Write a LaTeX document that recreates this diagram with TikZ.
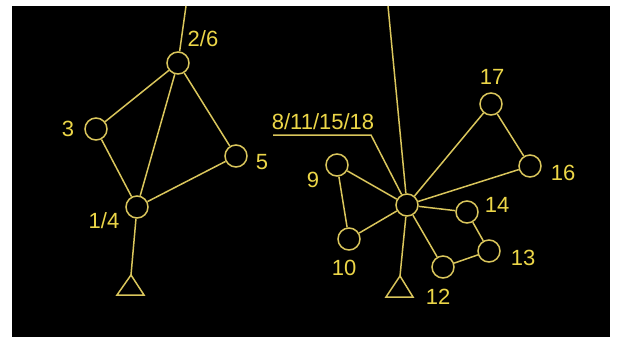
\documentclass[tikz,border=0pt]{standalone}
\usepackage{fontspec}
\setmainfont{Liberation Sans}
\begin{document}
\begin{tikzpicture}[x=1pt,y=-1pt,
  every node/.style={inner sep=0pt},
  vert/.style={circle,draw=lin,line width=1.5pt,minimum size=22pt},
  lbl/.style={text=txt,font=\fontsize{22}{22}\selectfont},
  edge/.style={draw=lin,line width=1.5pt},
  tri/.style={draw=lin,line width=1.5pt,line join=miter}]
\definecolor{lin}{RGB}{218,198,92}
\definecolor{txt}{RGB}{236,214,72}
\useasboundingbox (0,0) rectangle (617,338);
\fill[white] (0,0) rectangle (617,338);
\fill[black] (12,6) rectangle (610,337);
% left cluster
\node[vert] (n26) at (178,63) {};
\node[vert] (n3) at (96,129) {};
\node[vert] (n5) at (236,156) {};
\node[vert] (n14a) at (137,207) {};
\coordinate (topL) at (186,6);
\coordinate (apL) at (131,275);
\draw[tri] (apL) -- (144,295) -- (117,295) -- cycle;
\draw[edge] (topL) -- (n26);
\draw[edge] (n26) -- (n3);
\draw[edge] (n26) -- (n14a);
\draw[edge] (n26) -- (n5);
\draw[edge] (n3) -- (n14a);
\draw[edge] (n5) -- (n14a);
\draw[edge] (n14a) -- (apL);
\node[lbl] (l26) at (203,39) {2/6};
\node[lbl] (l3) at (68,129) {3};
\node[lbl] (l5) at (262,162) {5};
\node[lbl] (l14) at (104,221) {1/4};
% right cluster
\node[vert] (c) at (407,205) {};
\node[vert] (n9) at (337,165) {};
\node[vert] (n10) at (349,239) {};
\node[vert] (n17) at (491,104) {};
\node[vert] (n16) at (530,166) {};
\node[vert] (n14) at (467,212) {};
\node[vert] (n13) at (489,251) {};
\node[vert] (n12) at (443,267) {};
\coordinate (topR) at (388,6);
\coordinate (apR) at (400,276);
\coordinate (ulA) at (273,135);
\coordinate (ulB) at (371,135);
\draw[tri] (apR) -- (413,297) -- (386,297) -- cycle;
\draw[edge] (topR) -- (c);
\draw[edge] (ulA) -- (ulB) -- (c);
\draw[edge] (c) -- (n9);
\draw[edge] (c) -- (n10);
\draw[edge] (n9) -- (n10);
\draw[edge] (c) -- (n17);
\draw[edge] (c) -- (n16);
\draw[edge] (n17) -- (n16);
\draw[edge] (c) -- (n14);
\draw[edge] (n14) -- (n13);
\draw[edge] (n13) -- (n12);
\draw[edge] (n12) -- (c);
\draw[edge] (c) -- (apR);
\node[lbl] (lc) at (323,122) {8/11/15/18};
\node[lbl] (l9) at (313,180) {9};
\node[lbl] (l10) at (344,268) {10};
\node[lbl] (l17) at (492,77) {17};
\node[lbl] (l16) at (563,173) {16};
\node[lbl] (l14b) at (497,205) {14};
\node[lbl] (l13) at (523,258) {13};
\node[lbl] (l12) at (438,297) {12};
\end{tikzpicture}
\end{document}
